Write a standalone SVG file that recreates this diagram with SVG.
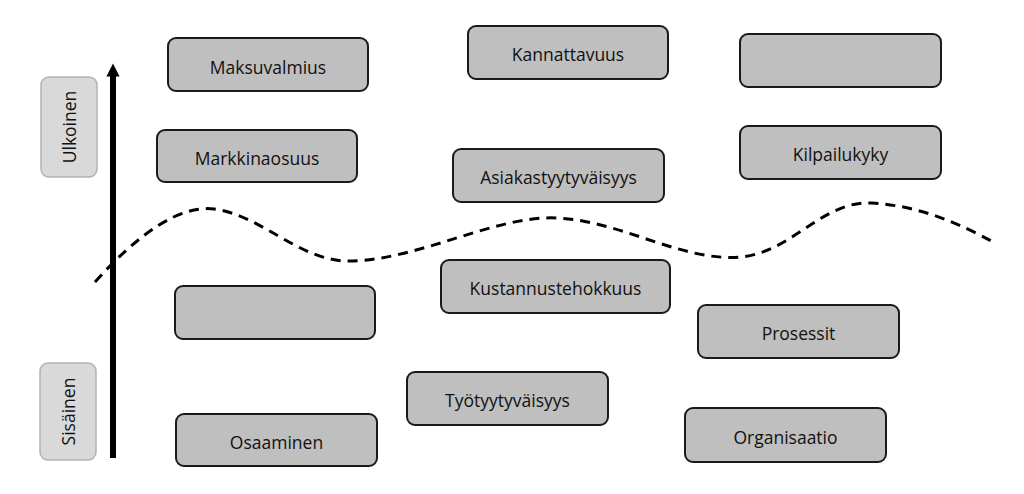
<svg xmlns="http://www.w3.org/2000/svg" width="1024" height="494" viewBox="0 0 1024 494">
<style>
.box{fill:#bfbfbf;stroke:#1a1a1a;stroke-width:2}
.side{fill:#d9d9d9;stroke:#b3b3b3;stroke-width:1.5}
.t{font-family:"Open Sans","Liberation Sans",sans-serif;font-size:17.5px;fill:#111;text-anchor:middle}
.wave{fill:none;stroke:#000;stroke-width:3;stroke-dasharray:10 7}
</style>
<defs>
<marker id="ah" viewBox="0 0 10 10" refX="5" refY="5" markerWidth="2.4" markerHeight="2.2" orient="auto" markerUnits="strokeWidth">
<path d="M0,0 L10,5 L0,10 z" fill="#000"/>
</marker>
</defs>
<rect width="1024" height="494" fill="#fff"/>
<g id="connectors">
<path class="wave" d="M95,282 C140,232 180,205 214,209 C262,215 300,262 350,261 C420,260 495,215 557,218 C622,221 682,262 740,257 C792,253 822,200 872,203 C922,206 962,225 995,243"/>
<line x1="113" y1="458" x2="113" y2="70" stroke="#000" stroke-width="6" marker-end="url(#ah)"/>
</g>
<g id="ulkoinen"><rect class="side" x="41" y="77" width="56" height="100" rx="8"/><text class="t" transform="translate(75.5,127) rotate(-90)">Ulkoinen</text></g>
<g id="sisainen"><rect class="side" x="40" y="363" width="56" height="97" rx="8"/><text class="t" transform="translate(74.5,411.5) rotate(-90)">Sisäinen</text></g>
<g id="maksuvalmius"><rect class="box" x="168" y="38" width="200" height="53" rx="8"/><text class="t" x="268" y="74">Maksuvalmius</text></g>
<g id="markkinaosuus"><rect class="box" x="157" y="130" width="200" height="52" rx="8"/><text class="t" x="257" y="165">Markkinaosuus</text></g>
<g id="kannattavuus"><rect class="box" x="468" y="26" width="200" height="53" rx="8"/><text class="t" x="568" y="61">Kannattavuus</text></g>
<g id="asiakastyytyvaisyys"><rect class="box" x="453" y="149" width="211" height="53" rx="8"/><text class="t" x="558.5" y="184">Asiakastyytyväisyys</text></g>
<g id="tyhja1"><rect class="box" x="740" y="34" width="201" height="53" rx="8"/></g>
<g id="kilpailukyky"><rect class="box" x="740" y="126" width="201" height="53" rx="8"/><text class="t" x="840.5" y="161">Kilpailukyky</text></g>
<g id="tyhja2"><rect class="box" x="175" y="286" width="200" height="53" rx="8"/></g>
<g id="kustannustehokkuus"><rect class="box" x="441" y="260" width="229" height="53" rx="8"/><text class="t" x="555.5" y="295">Kustannustehokkuus</text></g>
<g id="prosessit"><rect class="box" x="698" y="305" width="201" height="53" rx="8"/><text class="t" x="798.5" y="340">Prosessit</text></g>
<g id="tyotyytyvaisyys"><rect class="box" x="407" y="372" width="201" height="53" rx="8"/><text class="t" x="507.5" y="407">Työtyytyväisyys</text></g>
<g id="osaaminen"><rect class="box" x="176" y="414" width="201" height="52" rx="8"/><text class="t" x="276.5" y="449">Osaaminen</text></g>
<g id="organisaatio"><rect class="box" x="685" y="408" width="201" height="54" rx="8"/><text class="t" x="785.5" y="444">Organisaatio</text></g>
</svg>
